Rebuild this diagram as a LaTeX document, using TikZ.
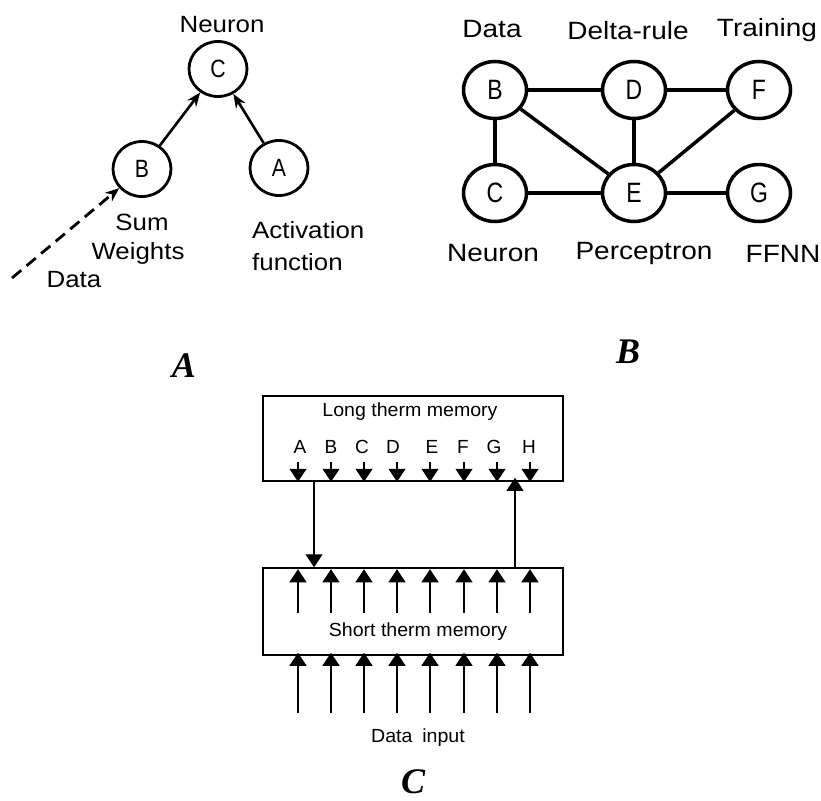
\documentclass[tikz,border=0pt]{standalone}
\usepackage{graphicx}
\usepackage{fontspec}
\setmainfont{Liberation Sans}
\newfontfamily\serifbi{Liberation Serif}
\usetikzlibrary{shapes.geometric,arrows.meta}
\newcommand{\stretchtx}[2][1.1]{\scalebox{#1}[1]{#2}}
\begin{document}
\begin{tikzpicture}[x=1pt,y=-1pt,
  acirc/.style={draw, ellipse, line width=2.8pt, inner sep=0pt, minimum width=58pt, minimum height=55pt, font=\fontsize{25}{25}\selectfont},
  bcirc/.style={draw, ellipse, line width=3.5pt, inner sep=0pt, minimum width=63pt, minimum height=57pt, font=\fontsize{28}{28}\selectfont},
  alab/.style={inner sep=0pt, font=\fontsize{23.5}{32}\selectfont},
  blab/.style={inner sep=0pt, font=\fontsize{25}{25}\selectfont},
  clab/.style={inner sep=0pt, font=\fontsize{19}{19}\selectfont},
  panel/.style={inner sep=0pt, font=\fontsize{36}{36}\serifbi\bfseries\itshape},
  aarrow/.style={line width=2.6pt, -{Stealth[length=14pt,width=11pt]}},
  bedge/.style={line width=3.5pt},
  membox/.style={draw, line width=1.5pt, minimum width=300pt, inner sep=0pt},
  tarrow/.style={line width=1.3pt, -{Triangle[width=17pt,length=13pt]}}
]
\useasboundingbox (0,0) rectangle (821,800);

% ---------- Panel A ----------
\node[acirc] (aC) at (218,69) {\stretchtx[0.85]{C}};
\node[acirc] (aB) at (142,169) {\stretchtx[0.85]{B}};
\node[acirc] (aA) at (279,168) {\stretchtx[0.85]{A}};
\node[alab] (aNeuron) at (222,25) {\stretchtx{Neuron}};
\node[alab] (aSum) at (142,222) {\stretchtx{Sum}};
\node[alab] (aW) at (138,253) {\stretchtx{Weights}};
\node[alab, align=left, anchor=west] (aAct) at (252,246) {\stretchtx{Activation}\\\stretchtx{function}};
\node[alab] (aData) at (74,280) {\stretchtx{Data}};
\coordinate (aDs) at (12,278);
\draw[aarrow, line width=2.8pt, dash pattern=on 12pt off 7pt] (aDs) -- (aB);
\draw[aarrow] (aB) -- (aC);
\draw[aarrow] (aA) -- (aC);

% ---------- Panel B ----------
\node[bcirc] (bB) at (495,90) {\stretchtx[0.82]{B}};
\node[bcirc] (bD) at (634,90) {\stretchtx[0.82]{D}};
\node[bcirc] (bF) at (759,90) {\stretchtx[0.82]{F}};
\node[bcirc] (bC) at (495,193) {\stretchtx[0.82]{C}};
\node[bcirc] (bE) at (634,193) {\stretchtx[0.82]{E}};
\node[bcirc] (bG) at (759,193) {\stretchtx[0.82]{G}};
\node[blab] (lData) at (492,29) {\stretchtx[1.12]{Data}};
\node[blab] (lDelta) at (628,31) {\stretchtx[1.12]{Delta-rule}};
\node[blab] (lTrain) at (767,30) {\stretchtx[1.12]{Training}};
\node[blab] (lNeuron) at (493,253) {\stretchtx[1.12]{Neuron}};
\node[blab] (lPerc) at (644,253) {\stretchtx[1.12]{Perceptron}};
\node[blab] (lFFNN) at (783,254) {\stretchtx[1.12]{FFNN}};
\draw[bedge] (bB) -- (bD);
\draw[bedge] (bD) -- (bF);
\draw[bedge] (bB) -- (bC);
\draw[bedge] (bB) -- (bE);
\draw[bedge] (bD) -- (bE);
\draw[bedge] (bF) -- (bE);
\draw[bedge] (bC) -- (bE);
\draw[bedge] (bE) -- (bG);

% ---------- Panel labels ----------
\node[panel] (pA) at (184,366) {A};
\node[panel] (pB) at (628,352) {B};
\node[panel] (pC) at (413,782) {C};

% ---------- Panel C ----------
\node[membox, minimum height=85pt] (ltm) at (413,438.5) {};
\node[membox, minimum height=87pt] (stm) at (413,611.5) {};
\node[clab] (ltmt) at (410,412) {\stretchtx[1.03]{Long therm memory}};
\node[clab] (stmt) at (418,632) {\stretchtx[1.03]{Short therm memory}};
\node[clab] (din) at (418,738) {\stretchtx[1.03]{Data\hspace{0.5em}input}};
\foreach \l/\lx in {A/300,B/331,C/362,D/393,E/432,F/463,G/494,H/529}
  \node[clab] (let\l) at (\lx,447) {\l};
\foreach \cx [count=\i] in {298,331,364,397,430,464,497,530} {
  \coordinate (ta\i) at (\cx,462);
  \draw[tarrow] (ta\i) -- (ta\i |- ltm.south);
  \coordinate (ma\i) at (\cx,613);
  \draw[tarrow] (ma\i) -- ([yshift=-2pt]ma\i |- stm.north);
  \coordinate (ba\i) at (\cx,713);
  \draw[tarrow] (ba\i) -- ([yshift=3pt]ba\i |- stm.south);
}
\coordinate (dn) at (314,0);
\draw[tarrow] (dn |- ltm.south) -- (dn |- stm.north);
\coordinate (up) at (515,0);
\draw[tarrow] (up |- stm.north) -- ([yshift=4pt]up |- ltm.south);
\end{tikzpicture}
\end{document}
